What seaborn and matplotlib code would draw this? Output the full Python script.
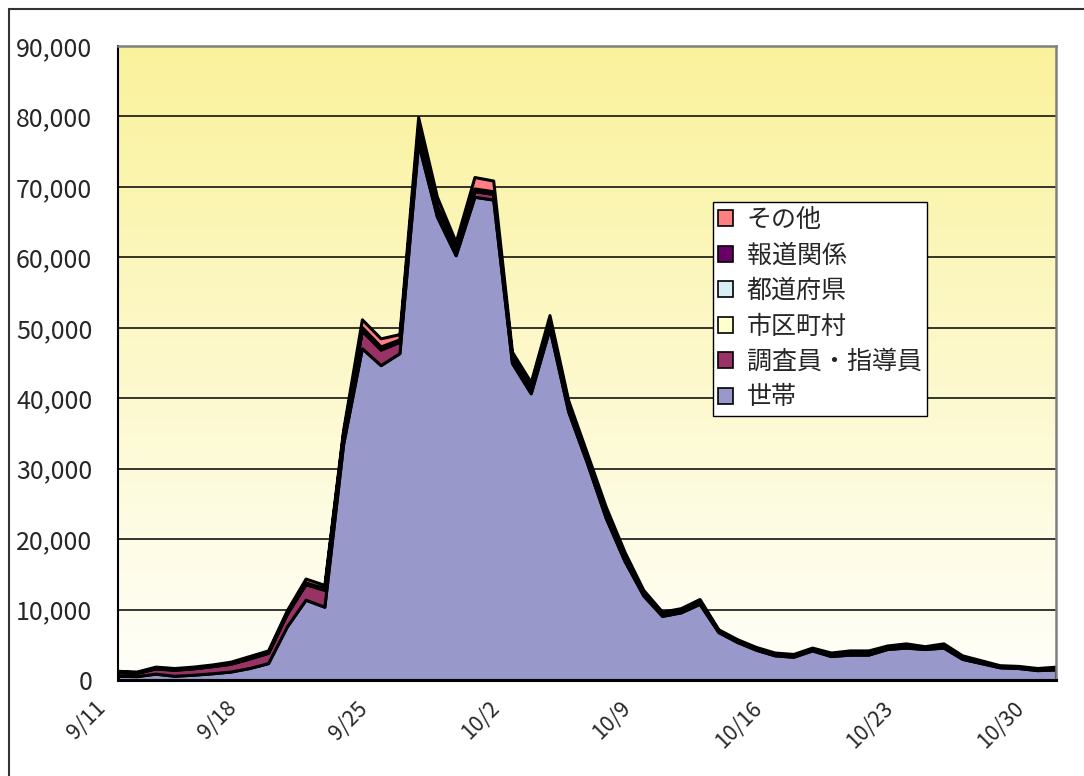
import numpy as np
import pandas as pd
import matplotlib
matplotlib.use("Agg")
import matplotlib.pyplot as plt
import seaborn as sns
from matplotlib.patches import Patch, Rectangle
from matplotlib.ticker import FuncFormatter
from matplotlib.transforms import ScaledTranslation

# ---------------- data ----------------
dates = ["9/11", "9/12", "9/13", "9/14", "9/15", "9/16", "9/17", "9/18", "9/19", "9/20",
         "9/21", "9/22", "9/23", "9/24", "9/25", "9/26", "9/27", "9/28", "9/29", "9/30",
         "10/1", "10/2", "10/3", "10/4", "10/5", "10/6", "10/7", "10/8", "10/9", "10/10",
         "10/11", "10/12", "10/13", "10/14", "10/15", "10/16", "10/17", "10/18", "10/19", "10/20",
         "10/21", "10/22", "10/23", "10/24", "10/25", "10/26", "10/27", "10/28", "10/29", "10/30",
         "10/31"]

setai = [600, 550, 900, 600, 750, 950, 1200, 1700, 2400, 7600,
         11400, 10400, 33500, 47100, 44700, 46400, 76200, 65800, 60300, 68600,
         68200, 45000, 40700, 49900, 38100, 30800, 23000, 16900, 12000, 9100,
         9600, 10800, 6800, 5400, 4300, 3500, 3300, 4200, 3400, 3600,
         3600, 4400, 4600, 4400, 4600, 3000, 2400, 1800, 1700, 1400,
         1500]
chosain = [500, 450, 750, 850, 900, 1000, 1100, 1350, 1450, 1800,
           2200, 2400, 1300, 2500, 2200, 1600, 1800, 1200, 700, 800,
           800, 700, 700, 1000, 800, 700, 900, 700, 400, 250,
           250, 300, 150, 150, 150, 150, 150, 150, 200, 250,
           250, 200, 250, 150, 250, 200, 150, 100, 100, 100,
           150]
shichoson = [50, 50, 60, 60, 60, 60, 70, 80, 80, 100,
             120, 120, 120, 200, 200, 150, 200, 150, 120, 150,
             150, 120, 120, 120, 120, 100, 100, 100, 80, 70,
             70, 70, 50, 50, 50, 50, 50, 50, 60, 60,
             60, 60, 60, 50, 60, 50, 50, 40, 40, 40,
             50]
todofuken = [30, 30, 30, 30, 30, 30, 40, 40, 40, 50,
             60, 60, 60, 100, 100, 80, 100, 80, 60, 80,
             80, 60, 60, 60, 60, 50, 50, 50, 40, 30,
             30, 30, 20, 20, 20, 20, 20, 20, 30, 30,
             30, 30, 30, 20, 30, 20, 20, 20, 20, 20,
             20]
hodo = [20, 20, 20, 20, 20, 20, 30, 30, 30, 50,
        70, 70, 70, 200, 150, 120, 300, 150, 120, 150,
        150, 100, 100, 100, 100, 80, 80, 60, 50, 40,
        40, 50, 30, 30, 30, 30, 30, 30, 40, 40,
        40, 40, 50, 30, 40, 30, 30, 20, 20, 20,
        30]
sonota = [100, 100, 140, 140, 140, 140, 160, 200, 200, 300,
          550, 450, 450, 1100, 1150, 750, 1300, 1220, 900, 1620,
          1520, 620, 620, 620, 520, 470, 470, 390, 230, 210,
          210, 250, 150, 150, 150, 150, 150, 150, 170, 220,
          220, 170, 210, 150, 220, 200, 150, 120, 120, 120,
          150]

series_names = ["世帯", "調査員・指導員", "市区町村", "都道府県", "報道関係", "その他"]
series_colors = ["#9898CA", "#993366", "#FFFFCC", "#D6EEF4", "#660066", "#FF8080"]
tick_labels = ["9/11", "9/18", "9/25", "10/2", "10/9", "10/16", "10/23", "10/30"]
y_ticks = [0, 10000, 20000, 30000, 40000, 50000, 60000, 70000, 80000, 90000]

df = pd.DataFrame({"date": dates,
                   "世帯": setai, "調査員・指導員": chosain, "市区町村": shichoson,
                   "都道府県": todofuken, "報道関係": hodo, "その他": sonota})

# ---------------- style ----------------
sns.set_style("white")
plt.rcParams["font.family"] = ["Noto Sans CJK JP", "DejaVu Sans"]

fig = plt.figure(figsize=(10.84, 7.76), dpi=100)
ax = fig.add_axes([118 / 1084, 1 - 680 / 776, (1056 - 118) / 1084, (680 - 46) / 776])

# gradient background (yellow top -> near white bottom)
top_c = np.array([250, 242, 155]) / 255
bot_c = np.array([255, 255, 250]) / 255
t = np.linspace(0, 1, 256)[:, None]
grad = (top_c[None, :] * (1 - t) + bot_c[None, :] * t)[:, None, :]
ax.imshow(grad, extent=[0, 1, 0, 1], transform=ax.transAxes, aspect="auto",
          zorder=0, interpolation="bicubic")

x = np.arange(len(df))
ys = [df[n].values for n in series_names]
ax.stackplot(x, *ys, colors=series_colors, edgecolor="black", linewidth=2.2,
             zorder=3)

ax.set_xlim(0, len(df) - 1)
ax.set_ylim(0, 90000)
ax.set_yticks(y_ticks)
ax.yaxis.set_major_formatter(FuncFormatter(lambda v, p: f"{int(v):,}"))
for v in y_ticks[1:-1]:
    ax.axhline(v, color="black", lw=1.1, zorder=1)

tick_pos = [dates.index(l) for l in tick_labels]
ax.set_xticks(tick_pos)
ax.set_xticklabels(tick_labels, rotation=45, ha="right", va="center",
                   rotation_mode="anchor", fontsize=15.5)
ax.tick_params(axis="x", direction="in", length=4, width=1, color="#555555", pad=18)
ax.tick_params(axis="y", length=0, pad=18.5, labelsize=18)
shift = ScaledTranslation(-16 / 100, 0, fig.dpi_scale_trans)
for lab in ax.get_xticklabels():
    lab.set_transform(lab.get_transform() + shift)

for s in ["left", "bottom"]:
    ax.spines[s].set_color("black")
ax.spines["left"].set_linewidth(1.5)
ax.spines["bottom"].set_linewidth(2.2)
for s in ["top", "right"]:
    ax.spines[s].set_color("#7f7f7f")
    ax.spines[s].set_linewidth(1.8)
for s in ax.spines.values():
    s.set_zorder(5)

handles = [Patch(facecolor=c, edgecolor="black", linewidth=1.2)
           for c in series_colors][::-1]
leg = ax.legend(handles, series_names[::-1], loc="upper left",
                bbox_to_anchor=((713 - 118) / 938, (680 - 202) / 634),
                borderaxespad=0, fontsize=18, frameon=True, fancybox=False,
                handlelength=0.6, handleheight=0.6, handletextpad=0.55,
                labelspacing=0.38, borderpad=0.2)
leg.get_frame().set_edgecolor("black")
leg.get_frame().set_linewidth(1.0)
leg.get_frame().set_facecolor("white")
leg.get_frame().set_alpha(1)
leg.set_zorder(10)

# outer chart border
fig.patches.append(Rectangle((9 / 1084, -0.05), 1.2, 1 - 9 / 776 + 0.05,
                             transform=fig.transFigure, fill=False,
                             edgecolor="#333333", linewidth=1.5))

fig.savefig("out.png", dpi=100)
